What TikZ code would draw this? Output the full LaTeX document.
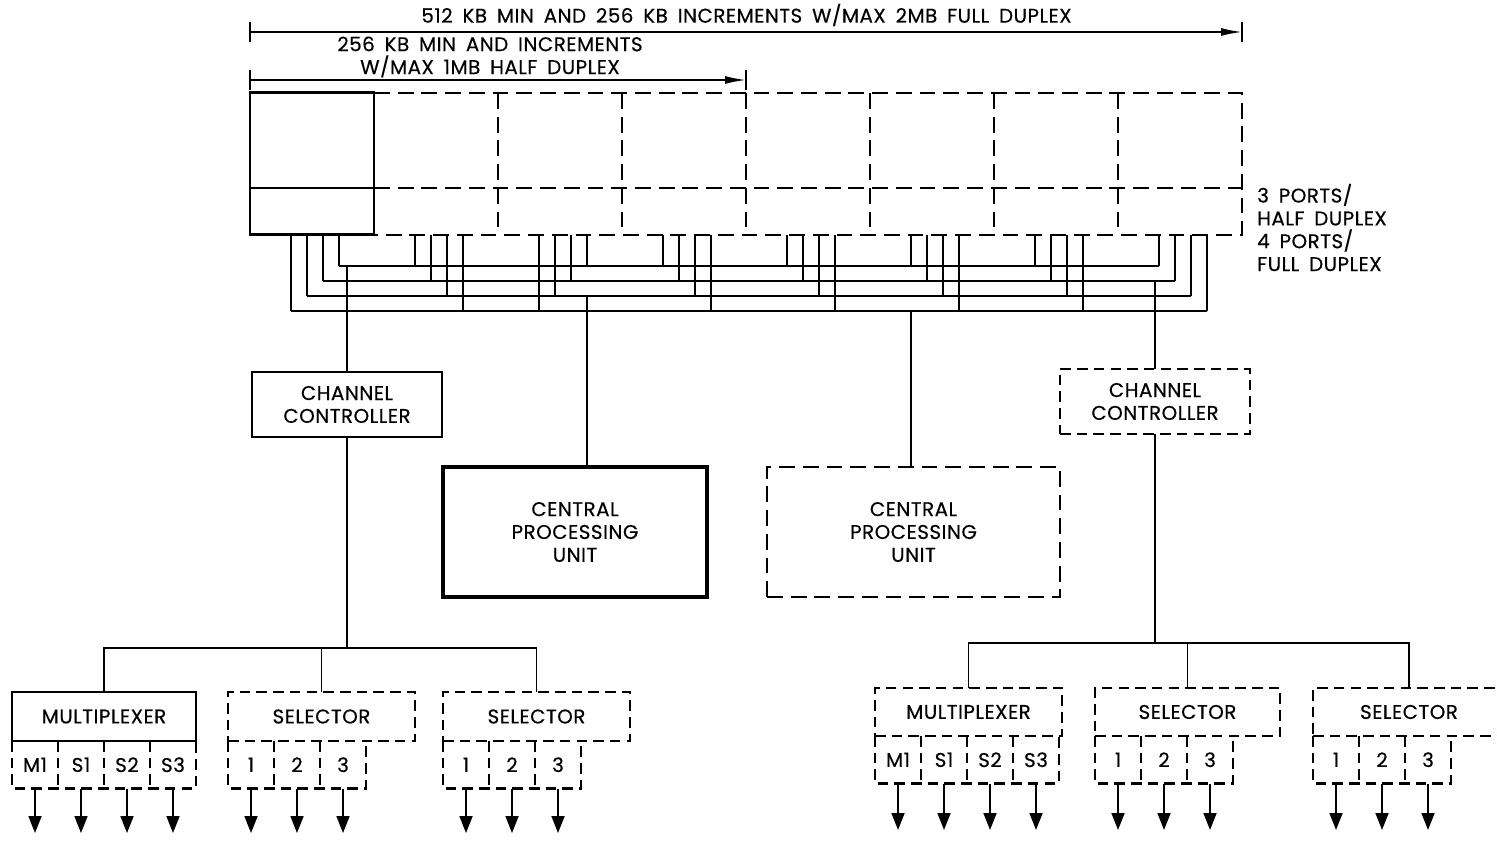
\documentclass[tikz,border=0pt]{standalone}
\usepackage{fontspec}
\setmainfont{Poppins}[LetterSpace=2.5,WordSpace=1.7,FakeBold=0.4]
\usetikzlibrary{arrows.meta,calc,positioning}

\begin{document}
\begin{tikzpicture}[
  every node/.style={font=\fontsize{11.3}{13}\selectfont},
  wire/.style={line width=1pt},
  ddash/.style={line width=1.2pt,dash pattern=on 6pt off 3.5pt},
  ldash/.style={line width=1.2pt,dash pattern=on 9pt off 4.5pt},
  solidbox/.style={draw,line width=1.5pt,align=center,inner sep=0pt,outer sep=0pt},
  dashbox/.style={draw,ddash,align=center,inner sep=0pt,outer sep=0pt},
  port/.style={minimum width=0.92cm,minimum height=0.95cm,inner sep=0pt,outer sep=0pt,anchor=north west},
  outarrow/.style={wire,-{Triangle[length=0.34cm,width=0.26cm]}},
  dimline/.style={wire,-{Latex[length=0.42cm,width=0.16cm]}},
]
\useasboundingbox (0,0) rectangle (29.94,16.8);

% Memory modules
\node[solidbox,line width=1.7pt,minimum width=2.48cm,minimum height=2.84cm,anchor=south west] (mem0) at (5,12.1) {};
\foreach \k in {1,...,7}
  \node[minimum width=2.48cm,minimum height=2.84cm,inner sep=0pt,outer sep=0pt,anchor=south west] (mem\k) at ({5+2.48*\k},12.1) {};
\draw[line width=1.5pt] ([yshift=0.94cm]mem0.south west) -- ([yshift=0.94cm]mem0.south east);
\draw[ldash] (mem0.north east) -- (mem7.north east) -- (mem7.south east) -- (mem0.south east);
\draw[ldash] ([yshift=0.94cm]mem0.south east) -- ([yshift=0.94cm]mem7.south east);
\foreach \k in {1,...,6}
  \draw[ldash] (mem\k.north east) -- (mem\k.south east);

% Size ranges
\coordinate (dimA) at (5,16.16);
\coordinate (dimB) at (24.84,16.16);
\coordinate (dimC) at (5,15.2);
\coordinate (dimD) at (14.92,15.2);
\draw[dimline] (dimA) -- (dimB);
\draw[dimline] (dimC) -- (dimD);
\foreach \c in {dimA,dimB,dimC,dimD}
  \draw[wire] ([yshift=0.2cm]\c) -- ([yshift=-0.2cm]\c);
\node (full) at (14.93,16.5) {512 KB MIN AND 256 KB INCREMENTS W/MAX 2MB FULL DUPLEX};
\node[align=center] (half) at (9.8,15.66) {256 KB MIN AND INCREMENTS\\W/MAX 1MB HALF DUPLEX};
\node[align=left,anchor=west] (portnote) at (25.02,12.25) {3 PORTS/\\HALF DUPLEX\\4 PORTS/\\FULL DUPLEX};

% Ports and buses
\foreach \j in {0,...,3}
  \coordinate (bus\j) at (0,{11.48-0.3*\j});
\foreach \k/\rev in {0/1,1/0,2/1,3/0,4/0,5/0,6/0,7/0}
  \foreach \i in {0,...,3} {
    \pgfmathtruncatemacro\b{\rev==1 ? 3-\i : \i}
    \coordinate (pt\k\i) at ([xshift={0.82cm+0.32cm*\i}]mem\k.south west);
    \draw[wire] (pt\k\i) -- (pt\k\i |- bus\b);
  }
\foreach \j in {0,...,3} {
  \pgfmathtruncatemacro\r{3-\j}
  \draw[wire] (pt0\r |- bus\j) -- (pt7\j |- bus\j);
}

% Processors and channel controllers
\node[solidbox,minimum width=3.8cm,minimum height=1.3cm] (cc1) at (6.94,8.71) {CHANNEL\\CONTROLLER};
\node[dashbox,minimum width=3.8cm,minimum height=1.3cm] (cc2) at (23.1,8.77) {CHANNEL\\CONTROLLER};
\node[solidbox,line width=2pt,minimum width=5.28cm,minimum height=2.6cm] (cpu1) at (11.5,6.16) {CENTRAL\\PROCESSING\\UNIT};
\node[dashbox,ldash,minimum width=5.86cm,minimum height=2.6cm] (cpu2) at (18.27,6.16) {CENTRAL\\PROCESSING\\UNIT};
\draw[wire] (cc1.north |- bus0) -- (cc1.north);
\draw[wire] (pt23 |- bus2) -- (pt23 |- cpu1.north);
\draw[wire] (pt50 |- bus3) -- (pt50 |- cpu2.north);
\draw[wire] (cc2.north |- bus1) -- (cc2.north);

% I/O units
\node[solidbox,minimum width=3.68cm,minimum height=0.98cm] (mux1) at (2.08,2.47) {MULTIPLEXER};
\node[dashbox,minimum width=3.74cm,minimum height=0.98cm] (sel1) at (6.43,2.47) {SELECTOR};
\node[dashbox,minimum width=3.74cm,minimum height=0.98cm] (sel2) at (10.73,2.47) {SELECTOR};
\node[dashbox,minimum width=3.74cm,minimum height=0.96cm] (mux2) at (19.37,2.56) {MULTIPLEXER};
\node[dashbox,minimum width=3.7cm,minimum height=0.96cm] (sel3) at (23.75,2.56) {SELECTOR};
\node[dashbox,minimum width=3.84cm,minimum height=0.96cm] (sel4) at (28.18,2.56) {SELECTOR};

\coordinate (treeL) at (0,3.84);
\coordinate (treeR) at (0,3.94);
\coordinate (outL) at (0,0.14);
\coordinate (outR) at (0,0.2);
\draw[wire] (cc1.south) -- (cc1.south |- treeL);
\draw[wire] (mux1.north) |- (sel2.north |- treeL) -- (sel2.north);
\draw[wire] (sel1.north) -- (sel1.north |- treeL);
\draw[wire] (cc2.south) -- (cc2.south |- treeR);
\draw[wire] (mux2.north) |- (sel4.north |- treeR) -- (sel4.north);
\draw[wire] (sel3.north) -- (sel3.north |- treeR);

% Subchannels
\foreach \unit/\n/\o/\lst in {mux1/4/outL/{M1,S1,S2,S3},sel1/3/outL/{1,2,3},sel2/3/outL/{1,2,3},
    mux2/4/outR/{M1,S1,S2,S3},sel3/3/outR/{1,2,3},sel4/3/outR/{1,2,3}} {
  \foreach \lab [count=\i] in \lst {
    \node[port] (\unit p\i) at ([xshift={(\i-1)*0.92cm}]\unit.south west) {\lab};
    \draw[outarrow] (\unit p\i.south) -- (\unit p\i.south |- \o);
  }
  \draw[ddash] (\unit p1.north west) |- (\unit p\n.south east) -- (\unit p\n.north east);
  \foreach \i in {2,...,\n}
    \draw[ddash] (\unit p\i.north west) -- (\unit p\i.south west);
}
\end{tikzpicture}
\end{document}
